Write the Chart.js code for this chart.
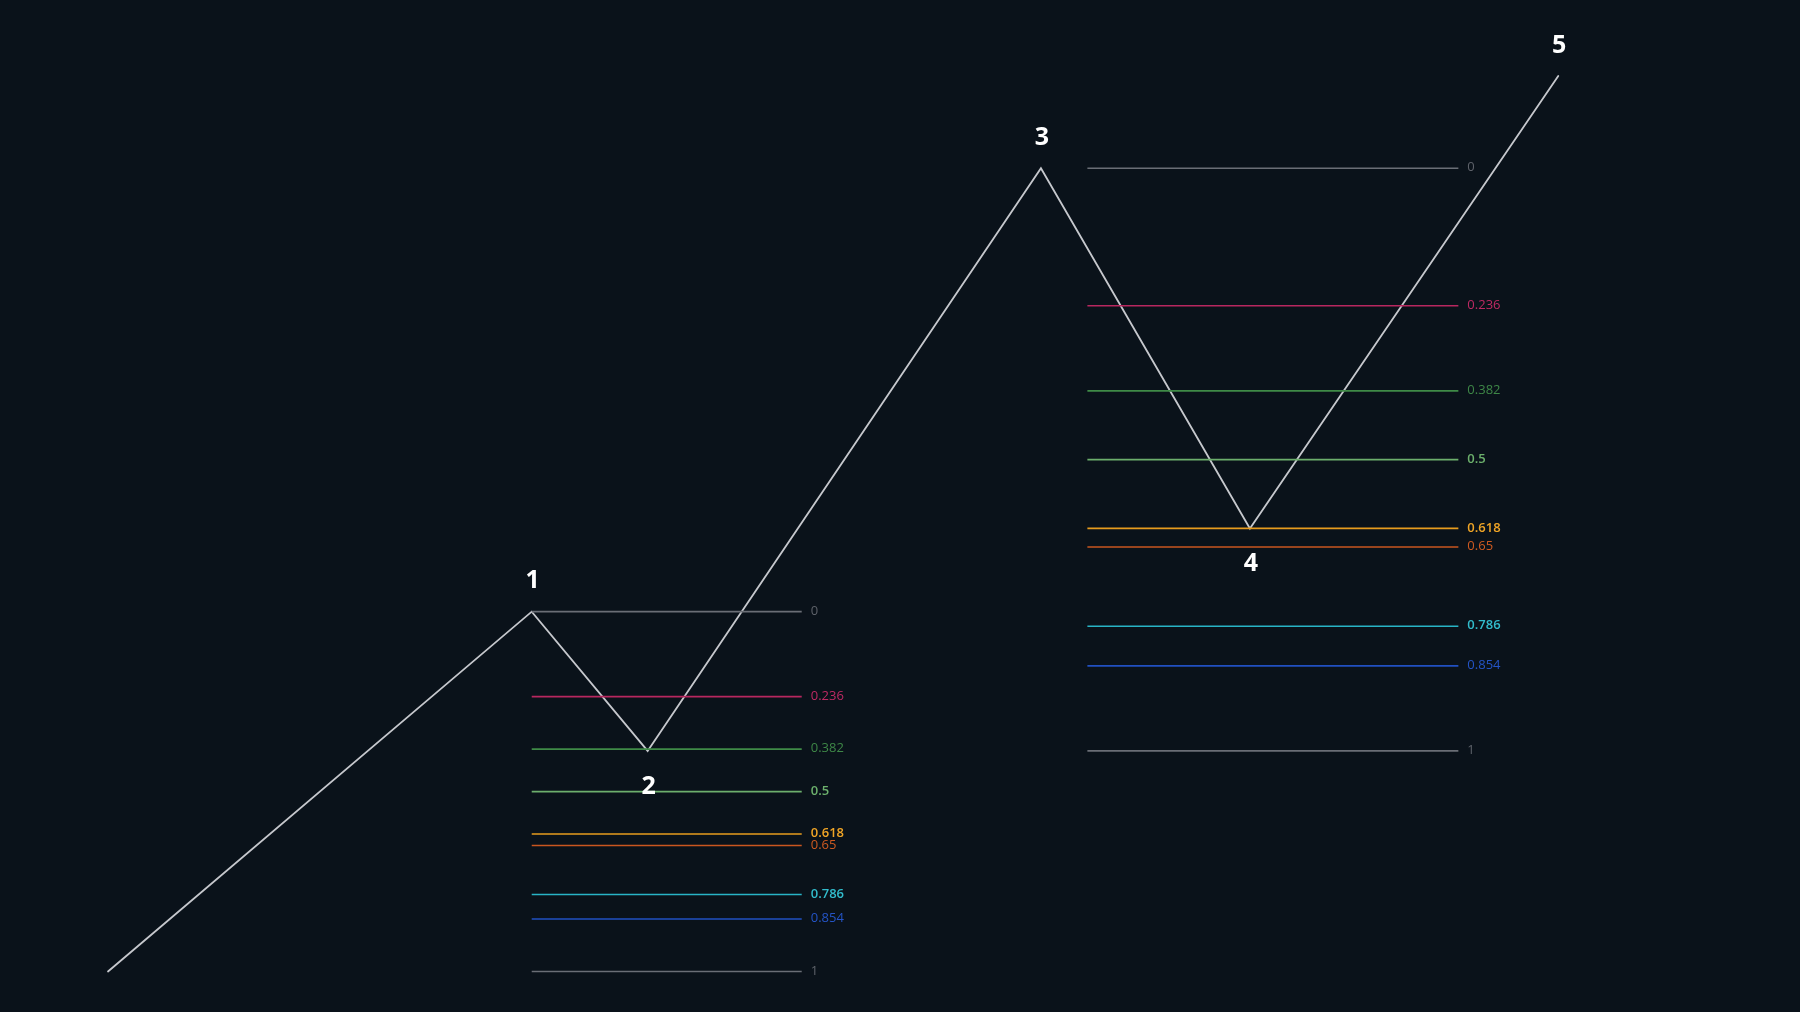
<!DOCTYPE html>
<html>
<head>
<meta charset="utf-8">
<script src="https://cdn.jsdelivr.net/npm/chart.js@4"></script>
<style>
  html, body { margin: 0; padding: 0; background: #0a121a; }
  #wrap { width: 1800px; height: 1012px; position: relative; }
</style>
</head>
<body>
<div id="wrap"><canvas id="c"></canvas></div>
<script>
// ---- Data ----
const waveLabels = ["", "1", "2", "3", "4", "5"];
const waveTime   = [6.0, 29.54, 35.98, 57.83, 69.44, 86.57];
const wavePrice  = [4.0, 39.56, 25.8, 83.37, 47.78, 92.49];

const fibLevels  = [0, 0.236, 0.382, 0.5, 0.618, 0.65, 0.786, 0.854, 1];
const fibLevelText = ["0", "0.236", "0.382", "0.5", "0.618", "0.65", "0.786", "0.854", "1"];

// fib 1: from wave start (level 1) to wave 1 (level 0)
const fib1High = 39.56;
const fib1Low  = 4.0;
const fib1Time = [29.54, 44.54];
// fib 2: from wave 2 (level 1) to wave 3 (level 0)
const fib2High = 83.37;
const fib2Low  = 25.8;
const fib2Time = [60.41, 81.02];

// ---- Styles ----
const fibColors = ["#6a6e76", "#b8275f", "#3f8b47", "#6cae6c", "#e79c1e", "#c9561f", "#28b4c6", "#2150c2", "#6a6e76"];
const fibText1  = ["#5e626a", "#be2a63", "#3e8747", "#6cb06c", "#f0a526", "#cf5a20", "#32bccc", "#2454c6", "#5e626a"];
const fibWeight = ["normal", "normal", "normal", "600", "600", "normal", "600", "normal", "normal"];

function fibDatasets(high, low, time) {
  return fibLevels.map((lv, i) => {
    const p = high - lv * (high - low);
    return {
      label: "fib" + fibLevelText[i],
      data: [{x: time[0], y: p}, {x: time[1], y: p}],
      borderColor: fibColors[i],
      borderWidth: 1.6,
      showLine: true,
      pointRadius: 0,
      fibText: fibLevelText[i],
      fibTextColor: fibText1[i],
      fibWeight: fibWeight[i]
    };
  });
}

const waveDataset = {
  label: "wave",
  data: waveTime.map((t, i) => ({x: t, y: wavePrice[i]})),
  borderColor: "#c6c8cd",
  borderWidth: 1.8,
  borderCapStyle: "round",
  borderJoinStyle: "miter",
  showLine: true,
  pointRadius: 0,
  tension: 0
};

const labelsPlugin = {
  id: "labelsPlugin",
  afterDatasetsDraw(chart) {
    const ctx = chart.ctx;
    const xs = chart.scales.x, ys = chart.scales.y;
    ctx.save();
    // fib labels
    ctx.textAlign = "left";
    ctx.textBaseline = "middle";
    chart.data.datasets.forEach(ds => {
      if (!ds.fibText) return;
      const end = ds.data[1];
      ctx.font = ds.fibWeight + " 13px 'Open Sans'";
      ctx.fillStyle = ds.fibTextColor;
      ctx.fillText(ds.fibText, xs.getPixelForValue(end.x) + 9, ys.getPixelForValue(end.y) - 0.5);
    });
    // wave labels
    ctx.font = "bold 25px 'Open Sans'";
    ctx.textAlign = "center";
    ctx.fillStyle = "#ffffff";
    waveLabels.forEach((lab, i) => {
      if (!lab) return;
      const px = xs.getPixelForValue(waveTime[i]);
      const py = ys.getPixelForValue(wavePrice[i]);
      const up = (i % 2 === 1);
      ctx.fillText(lab, px + 1, up ? py - 30.5 : py + 35.5);
    });
    ctx.restore();
  }
};

const bgPlugin = {
  id: "bg",
  beforeDraw(chart) {
    const ctx = chart.ctx;
    ctx.save();
    ctx.fillStyle = "#0a121a";
    ctx.fillRect(0, 0, chart.width, chart.height);
    ctx.restore();
  }
};

new Chart(document.getElementById("c"), {
  type: "scatter",
  data: {
    datasets: [
      ...fibDatasets(fib1High, fib1Low, fib1Time),
      ...fibDatasets(fib2High, fib2Low, fib2Time),
      waveDataset
    ]
  },
  options: {
    responsive: true,
    maintainAspectRatio: false,
    animation: false,
    layout: { padding: 0 },
    plugins: { legend: { display: false }, tooltip: { enabled: false } },
    scales: {
      x: { type: "linear", display: false, min: 0, max: 100 },
      y: { type: "linear", display: false, min: 0, max: 100 }
    }
  },
  plugins: [bgPlugin, labelsPlugin]
});
</script>
</body>
</html>
